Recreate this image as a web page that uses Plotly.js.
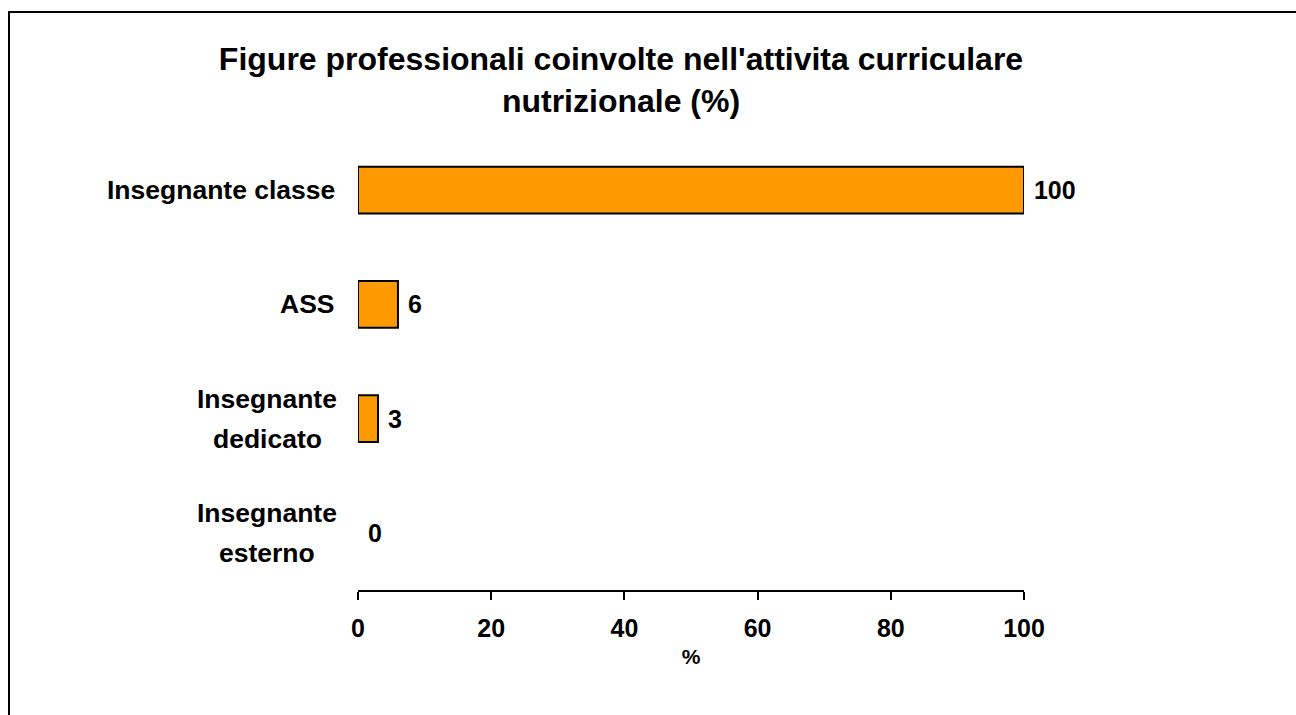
<!DOCTYPE html>
<html>
<head>
<meta charset="utf-8">
<script src="https://cdn.plot.ly/plotly-3.0.1.min.js"></script>
<style>
html, body { margin:0; padding:0; overflow:hidden; background:#fff; }
#frame { position:absolute; left:8px; top:11px; width:2000px; height:2000px; border:2px solid #000; pointer-events:none; z-index:10; }
#chart { width:1296px; height:715px; }
</style>
</head>
<body>
<div id="chart"></div>
<div id="frame"></div>
<script>
var categories = ["Insegnante classe", "ASS", "Insegnante dedicato", "Insegnante esterno"];
var categoryLabels = ["Insegnante classe", "ASS", "Insegnante<br>dedicato", "Insegnante<br>esterno"];
var values = [100, 6, 3, 0];
var xTickValues = [0, 20, 40, 60, 80, 100];

var FONT = "Liberation Sans, Arial, Helvetica, sans-serif";
var LABEL_FONT = { family: FONT, size: 26.5, color: '#000', weight: 'bold' };

var trace = {
  type: 'bar',
  orientation: 'h',
  y: categories,
  x: values,
  width: 0.41,
  marker: {
    color: '#FF9900',
    line: { color: '#000000', width: values.map(function (v) { return v > 0 ? 2 : 0; }) }
  },
  text: values.map(function (v) { return '\u00a0' + v; }),
  textposition: 'outside',
  textfont: { family: FONT, size: 25, color: '#000', weight: 'bold' },
  cliponaxis: false,
  hoverinfo: 'x+y'
};

var annotations = [];
categories.forEach(function (c, i) {
  var lines = categoryLabels[i].split('<br>');
  var n = lines.length;
  var lineGap = 40;
  lines.forEach(function (line, j) {
    annotations.push({
      xref: 'paper', x: 0,
      xshift: n > 1 ? -91 : -21,
      xanchor: n > 1 ? 'center' : 'right',
      yref: 'y', y: c, yanchor: 'middle',
      yshift: -((j - (n - 1) / 2) * lineGap),
      text: line, align: 'center', showarrow: false,
      font: LABEL_FONT
    });
  });
});

var layout = {
  width: 1296, height: 715,
  margin: { l: 358, r: 272, t: 133, b: 125, pad: 0 },
  paper_bgcolor: '#ffffff', plot_bgcolor: '#ffffff',
  showlegend: false,
  title: {
    text: "Figure professionali coinvolte nell'attivita curriculare<br>nutrizionale (%)",
    font: { family: FONT, size: 32, color: '#000', weight: 'bold' },
    xref: 'container', x: 621 / 1296, xanchor: 'center',
    yref: 'container', y: 1 - 70 / 715, yanchor: 'top'
  },
  xaxis: {
    range: [0, 100], tickvals: xTickValues, ticktext: xTickValues.map(String),
    showgrid: false, zeroline: false, showline: true, linecolor: '#000', linewidth: 2,
    ticks: 'outside', ticklen: 8, tickwidth: 2, tickcolor: '#000',
    tickfont: { family: FONT, size: 25, color: '#000', weight: 'bold' },
    ticklabelstandoff: 7,
    title: { text: '%', font: { family: FONT, size: 21, color: '#000', weight: 'bold' }, standoff: 8 },
    fixedrange: true
  },
  yaxis: {
    type: 'category', categoryorder: 'array', categoryarray: categories,
    range: [3.5, -0.5],
    showgrid: false, zeroline: false, showline: false, ticks: '',
    showticklabels: false, fixedrange: true
  },
  annotations: annotations
};

Plotly.newPlot('chart', [trace], layout, { displayModeBar: false, staticPlot: true });
</script>
</body>
</html>
